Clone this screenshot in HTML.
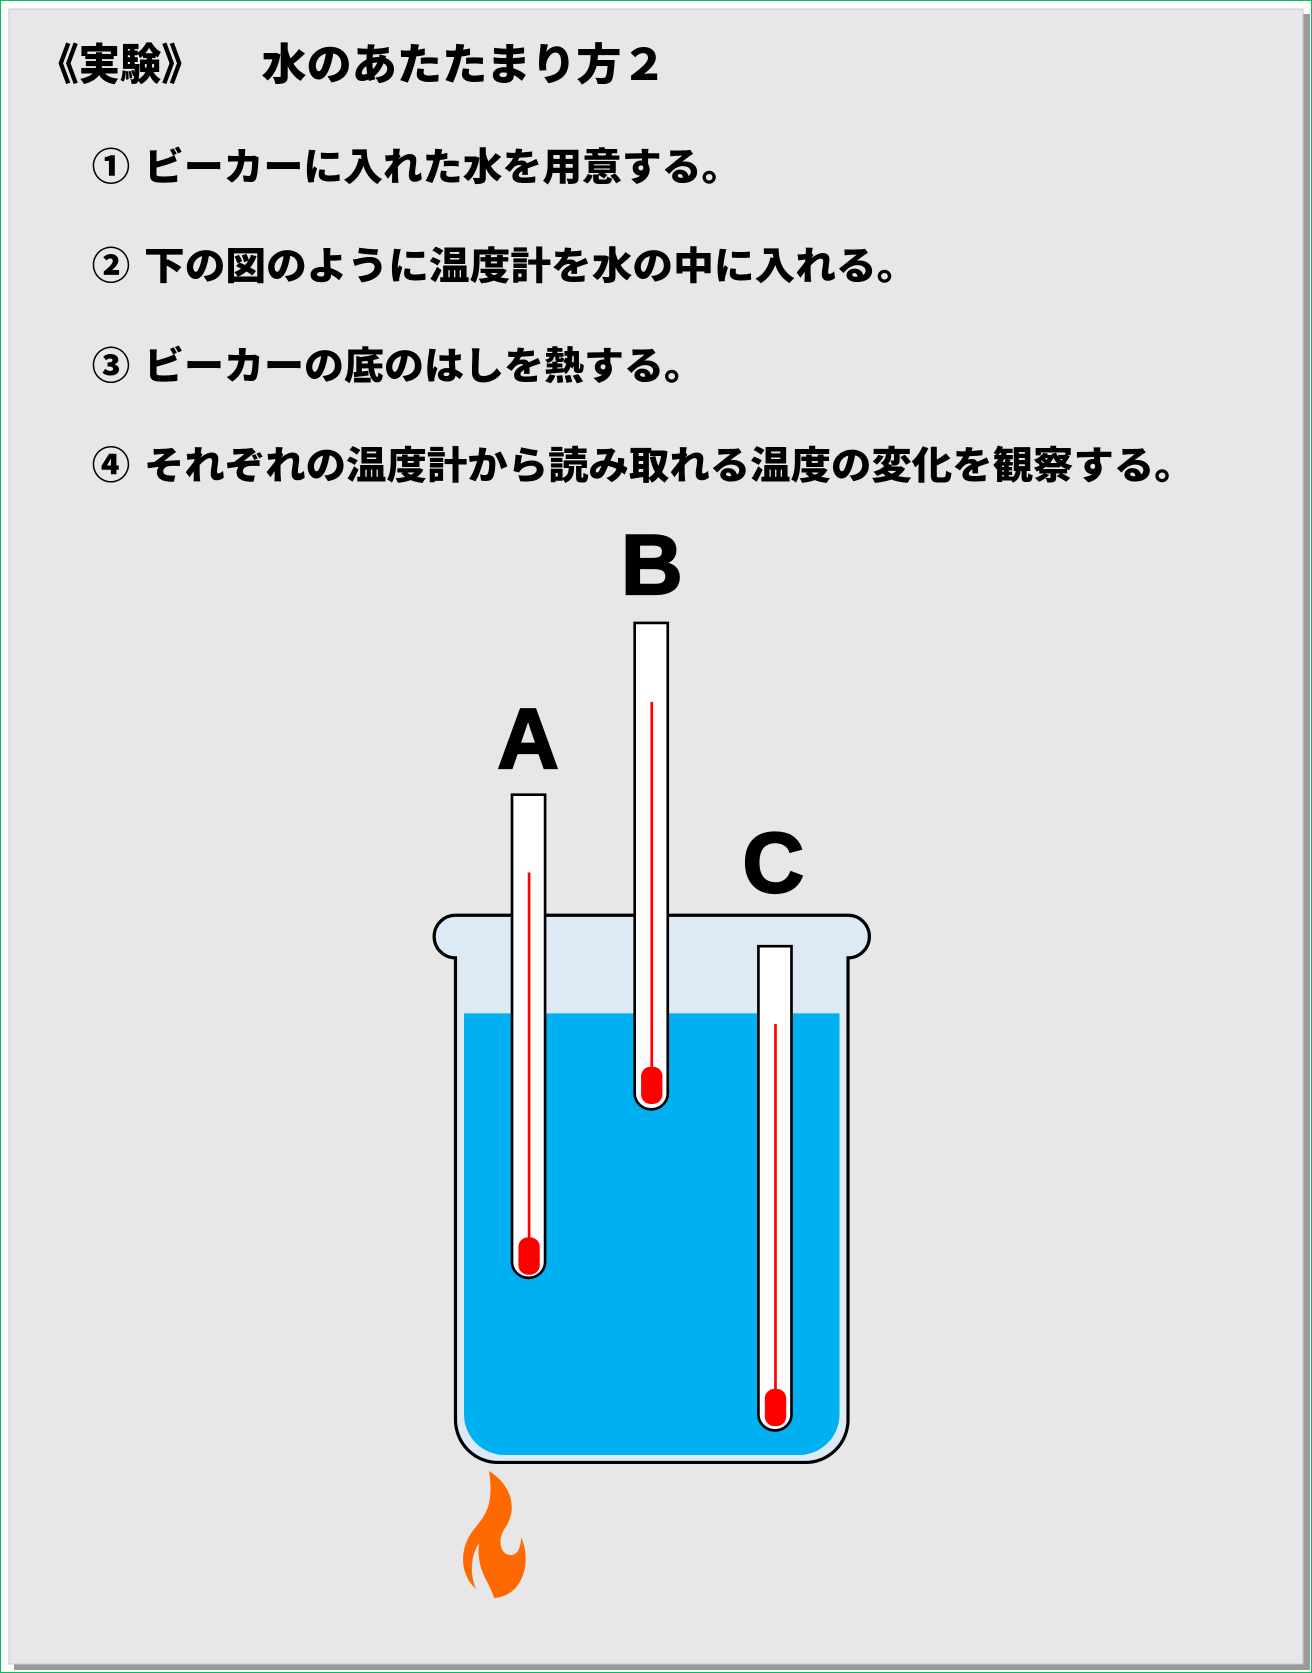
<!DOCTYPE html>
<html><head><meta charset="utf-8"><style>
html,body{margin:0;padding:0;background:#fff;}
svg{display:block;}
text{font-family:"Liberation Sans","Noto Sans CJK JP",sans-serif;font-weight:900;fill:#000;}
</style></head><body>
<svg width="1312" height="1673" viewBox="0 0 1312 1673" xmlns="http://www.w3.org/2000/svg">
<rect x="0.5" y="0.5" width="1311" height="1672" fill="#fff" stroke="#00c060" stroke-width="1"/>
<rect x="14" y="14" width="1296" height="1656" fill="#9a9a9a"/>
<rect x="9" y="9" width="1294" height="1655" fill="#e7e7e7" stroke="#c8c8c8" stroke-width="1"/>
<g transform="scale(1.0667)">
<text x="35" y="75" font-size="41" textLength="155" lengthAdjust="spacingAndGlyphs">《実験》</text>
<text x="245" y="75" font-size="41" textLength="380" lengthAdjust="spacingAndGlyphs">水のあたたまり方２</text>
<text x="86" y="169" font-size="36">①</text>
<text x="135" y="169" font-size="36" textLength="560" lengthAdjust="spacingAndGlyphs">ビーカーに入れた水を用意する。</text>
<text x="86" y="262" font-size="36">②</text>
<text x="135" y="262" font-size="36" textLength="725" lengthAdjust="spacingAndGlyphs">下の図のように温度計を水の中に入れる。</text>
<text x="86" y="356" font-size="36">③</text>
<text x="135" y="356" font-size="36" textLength="525" lengthAdjust="spacingAndGlyphs">ビーカーの底のはしを熱する。</text>
<text x="86" y="449" font-size="36">④</text>
<text x="135" y="449" font-size="36" textLength="985" lengthAdjust="spacingAndGlyphs">それぞれの温度計から読み取れる温度の変化を観察する。</text>

<!-- beaker -->
<path d="M427 898 A20 20 0 0 1 427 858 L795 858 A20 20 0 0 1 795 898 L795 1331 A40 40 0 0 1 755 1371 L467 1371 A40 40 0 0 1 427 1331 Z" fill="#dde9f5" stroke="#000" stroke-width="3"/>
<path d="M435 950 L787 950 L787 1326 A38 38 0 0 1 749 1364 L473 1364 A38 38 0 0 1 435 1326 Z" fill="#00b0f0"/>

<!-- thermometers -->
<g stroke="#000" stroke-width="2.5" fill="#fff">
<path d="M480 745 L480 1183 A15.5 15 0 0 0 511 1183 L511 745 Z"/>
<path d="M595 584 L595 1025 A15.5 15 0 0 0 626 1025 L626 584 Z"/>
<path d="M711 887 L711 1326 A15.5 15 0 0 0 742 1326 L742 887 Z"/>
</g>
<g stroke="#f00" stroke-width="2.5">
<line x1="496" y1="818" x2="496" y2="1170"/>
<line x1="611" y1="658" x2="611" y2="1010"/>
<line x1="727" y1="960" x2="727" y2="1310"/>
</g>
<g fill="#f00">
<rect x="486" y="1160" width="20" height="35" rx="9"/>
<rect x="601" y="1000" width="20" height="35" rx="9"/>
<rect x="717" y="1302" width="20" height="35" rx="9"/>
</g>
<text x="495" y="720" font-size="80" text-anchor="middle" font-family="'DejaVu Sans',sans-serif" stroke="#000" stroke-width="2">A</text>
<text x="611" y="557" font-size="80" text-anchor="middle" font-family="'DejaVu Sans',sans-serif" stroke="#000" stroke-width="2">B</text>
<text x="725" y="836" font-size="80" text-anchor="middle" font-family="'DejaVu Sans',sans-serif" stroke="#000" stroke-width="2">C</text>
</g>
<path d="M489 1471 C512 1485 518 1510 505 1528 C497 1540 500 1555 511 1555 C519 1555 521 1545 521 1537 C532 1560 524 1596 494 1598 C490 1582 476 1572 479 1543 C470 1557 470 1575 476 1589 C460 1575 459 1550 472 1532 C482 1518 495 1510 489 1471 Z" fill="#ff6a00"/>
</svg>
</body></html>
